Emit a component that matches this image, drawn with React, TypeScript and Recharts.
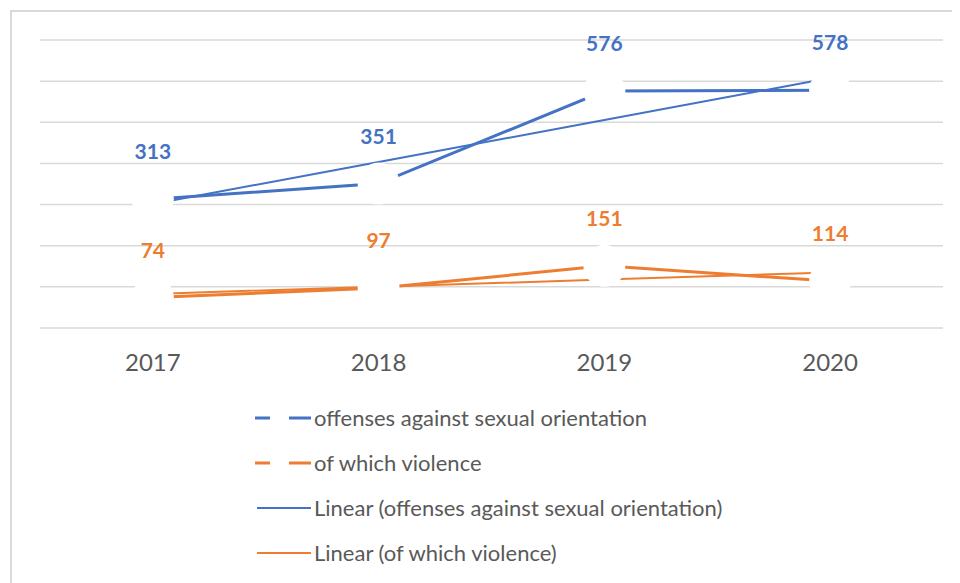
import React from "react";
import {
  LineChart,
  Line,
  XAxis,
  YAxis,
  CartesianGrid,
  Legend,
  LabelList
} from "recharts";

const BLUE = "#4472C4";
const ORANGE = "#ED7D31";
const TEXT = "#595959";
const FONT = "Lato, 'Open Sans', sans-serif";

const years = ["2017", "2018", "2019", "2020"];
const offenses = [313, 351, 576, 578];
const violence = [74, 97, 151, 114];
// linear trend values
const offensesTrend = [301.5, 403.5, 505.5, 607.5];
const violenceTrend = [82.9, 100.3, 117.7, 135.1];
const yTicks = [0, 100, 200, 300, 400, 500, 600, 700];

const legendItems = [
  { label: "offenses against sexual orientation", color: BLUE, dashed: true },
  { label: "of which violence", color: ORANGE, dashed: true },
  { label: "Linear (offenses against sexual orientation)", color: BLUE, dashed: false },
  { label: "Linear (of which violence)", color: ORANGE, dashed: false }
];

const data = years.map((year, i) => ({
  year,
  offenses: offenses[i],
  violence: violence[i],
  offensesTrend: offensesTrend[i],
  violenceTrend: violenceTrend[i]
}));

// white blob behind each point, cuts the line and the gridlines like Excel does
const whiteDot = (props: any) => (
  <circle key={`d-${props.dataKey}-${props.index}`} cx={props.cx} cy={props.cy} r={21} fill="#fff" />
);

const renderLegend = () => (
  <div style={{ height: 190, paddingTop: 17, paddingLeft: 247, boxSizing: "border-box", fontFamily: FONT }}>
    {legendItems.map(item => (
      <div key={item.label} style={{ height: 45, display: "flex", alignItems: "center" }}>
        <svg width={56} height={10} style={{ marginRight: 3 }}>
          {item.dashed ? (
            <line x1={0} x2={56} y1={5} y2={5} stroke={item.color} strokeWidth={3} strokeDasharray="15 19 22" />
          ) : (
            <line x1={2} x2={56} y1={5} y2={5} stroke={item.color} strokeWidth={2} />
          )}
        </svg>
        <span style={{ color: TEXT, fontSize: 22 }}>{item.label}</span>
      </div>
    ))}
  </div>
);

export default function App() {
  return (
    <div style={{ position: "relative", width: 952, height: 575, fontFamily: FONT }}>
      <div
        style={{
          position: "absolute",
          left: 2,
          top: 2,
          right: 0,
          bottom: 0,
          borderTop: "2px solid #d9d9d9",
          borderLeft: "2px solid #d9d9d9"
        }}
      />
      <LineChart
        width={952}
        height={575}
        data={data}
        margin={{ top: 32, right: 17, bottom: 15, left: 32 }}
        style={{ position: "absolute", left: 0, top: 0 }}
      >
        <CartesianGrid vertical={false} stroke="#d9d9d9" strokeWidth={1.5} />
        <XAxis
          dataKey="year"
          scale="band"
          height={50}
          axisLine={false}
          tickLine={false}
          tickMargin={20}
          tick={{ fill: TEXT, fontSize: 24, fontFamily: FONT }}
        />
        <YAxis hide domain={[0, 700]} ticks={yTicks} />
        <Legend
          verticalAlign="bottom"
          width={952}
          wrapperStyle={{ left: 0, bottom: 15 }}
          content={renderLegend}
        />
        <Line
          dataKey="offenses"
          stroke={BLUE}
          strokeWidth={3}
          dot={whiteDot}
          activeDot={false}
          isAnimationActive={false}
        >
          <LabelList
            dataKey="offenses"
            position="top"
            offset={40}
            fill={BLUE}
            fontSize={21}
            fontWeight={700}
            fontFamily={FONT}
          />
        </Line>
        <Line
          dataKey="violence"
          stroke={ORANGE}
          strokeWidth={3}
          dot={whiteDot}
          activeDot={false}
          isAnimationActive={false}
        >
          <LabelList
            dataKey="violence"
            position="top"
            offset={40}
            fill={ORANGE}
            fontSize={21}
            fontWeight={700}
            fontFamily={FONT}
          />
        </Line>
        <Line
          dataKey="offensesTrend"
          stroke={BLUE}
          strokeWidth={2}
          dot={false}
          activeDot={false}
          isAnimationActive={false}
        />
        <Line
          dataKey="violenceTrend"
          stroke={ORANGE}
          strokeWidth={2}
          dot={false}
          activeDot={false}
          isAnimationActive={false}
        />
      </LineChart>
    </div>
  );
}
